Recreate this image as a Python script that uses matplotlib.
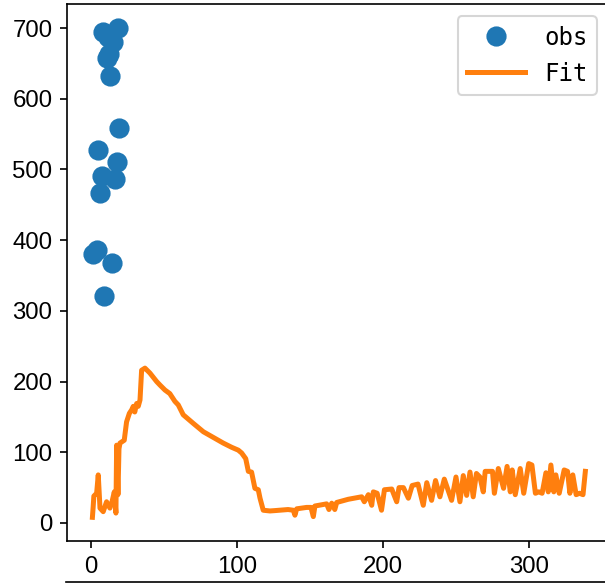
import matplotlib
matplotlib.use('Agg')
import matplotlib.pyplot as plt
from matplotlib.lines import Line2D

# observed points
obs_x = [1.4, 4.1, 5.0, 6.2, 7.3, 8.4, 9.1, 11.5, 11.3, 12.3, 13.0, 14.2, 15.3, 16.4, 17.6, 18.7, 19.4]
obs_y = [381, 386, 528, 466, 491, 695, 321, 688, 658, 663, 632, 367, 680, 486, 511, 700, 558]

# fitted curve
fit_x = [1, 1.5, 2, 3.9, 5, 6.2, 8.4, 10.7, 13, 14.2, 16, 17.1, 17.6, 18.5, 19.2, 19.9,
         22.8, 24.4, 26.3, 27.9, 29, 30, 31.3, 32.4, 33.6, 34.7, 37, 40.4, 45, 47.3, 50.7,
         54, 57.5, 59.8, 63.2, 70, 77, 83.8, 90.6, 96.4, 100.9, 103.2, 106, 107.8, 110,
         112.3, 114.6, 115.8, 118, 122.6, 126, 135, 138.6, 139.7, 140.9, 147.7, 150.7,
         152.3, 153.4, 161.4, 163, 164.9, 167, 168.3, 176.2, 185.4, 187.2, 190, 192.3,
         193.4, 196, 199, 201, 206, 209.4, 211, 214, 217.4, 220, 224, 227.6, 230, 233.3,
         236, 239, 242, 247, 250, 252.7, 255, 257.3, 259.6, 261.8, 264, 266.4, 268.7, 270,
         275, 276.3, 279, 282.6, 285, 287.2, 288.5, 290.6, 294, 296.4, 299.8, 302, 304.4,
         306.7, 309, 311.6, 313.2, 315, 317, 318.4, 320.7, 324.1, 326.4, 328, 330, 332.3,
         334.6, 337, 338.6]
fit_y = [8, 22, 38, 42, 68, 21, 16, 30, 21, 28, 44, 14, 110, 40, 105, 113,
         117, 143, 155, 160, 165, 157, 169, 165, 174, 216, 219, 212, 200, 195, 188,
         183, 172, 167, 153, 141, 129, 121, 113, 107, 103, 99, 91, 73, 72,
         49, 47, 35, 18, 17, 17.5, 19, 18, 11, 20, 22, 22,
         9, 24, 27, 19, 28, 19, 29, 33.5, 37, 30, 40, 25,
         44, 42, 18, 47, 48, 30, 50, 50, 35, 53, 55, 25, 57, 32,
         60, 37, 62, 32, 65, 30, 67, 39, 72, 37, 70, 65, 44, 73,
         73, 42, 77, 49, 80, 44, 75, 40, 77, 42, 84, 82, 42,
         44, 42, 71, 44, 82, 44, 68, 42, 75, 73, 42, 68, 40,
         42, 40, 73]

fig = plt.figure(figsize=(605 / 150, 585 / 150), dpi=150)
ax = fig.add_axes([67 / 605, 44 / 585, 542 / 605, 537 / 585])

ax.plot(obs_x, obs_y, 'o', ms=8.7, label='obs')
ax.plot(fit_x, fit_y, color='tab:orange', lw=2.4, label='Fit')

ax.set_xlim(-16.4, 354.8)
ax.set_ylim(-25.5, 734)
ax.set_xticks([0, 100, 200, 300])
ax.set_yticks(range(0, 701, 100))
for lab in ax.get_xticklabels() + ax.get_yticklabels():
    lab.set_family('Liberation Sans')
    lab.set_fontsize(11.5)

ax.legend(loc='upper right', prop={'family': 'DejaVu Sans Mono', 'size': 11.5},
          handlelength=2.4)

# top spine of the panel below, partly visible
fig.add_artist(Line2D([66 / 605, 1], [3 / 585, 3 / 585], color='black', lw=0.8))

fig.savefig('out.png', dpi=150)
